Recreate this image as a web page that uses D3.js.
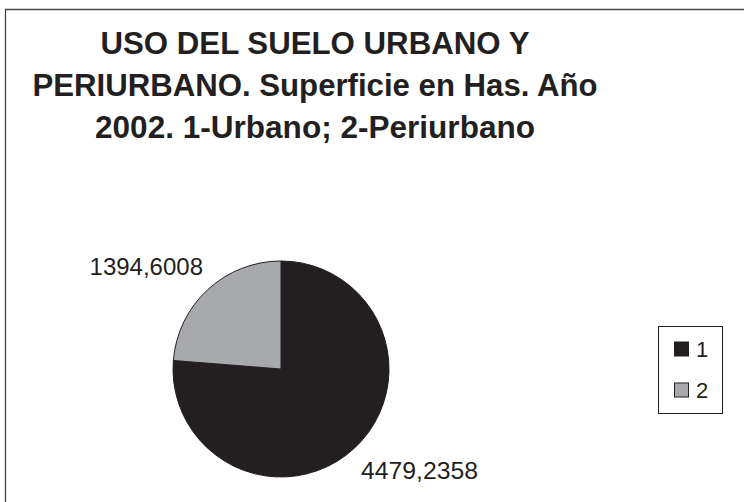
<!DOCTYPE html>
<html>
<head>
<meta charset="utf-8">
<script src="https://cdn.jsdelivr.net/npm/d3@7"></script>
<style>
  body { margin: 0; background: #fff; }
  svg { display: block; font-family: "Liberation Sans", Arial, sans-serif; }
</style>
</head>
<body>
<div id="chart"></div>
<script>
// chart data
const categories = ["1", "2"];
const values = [4479.2358, 1394.6008];
const valueLabels = ["4479,2358", "1394,6008"];
const titleLines = [
  "USO DEL SUELO URBANO Y",
  "PERIURBANO. Superficie en Has. Año",
  "2002. 1-Urbano; 2-Periurbano"
];
const colors = ["#231f20", "#a7a9ac"];

const W = 744, H = 502;
const svg = d3.select("#chart").append("svg")
  .attr("width", W)
  .attr("height", H);

// outer frame (only top and left visible in the crop)
svg.append("path")
  .attr("d", `M5.5,${H} V9.5 H${W}`)
  .attr("fill", "none")
  .attr("stroke", "#444")
  .attr("stroke-width", 1.3);

// title
const titleWidths = [429, 565, 440];
const titleBase = [54, 96, 138];
svg.append("g").selectAll("text")
  .data(titleLines)
  .enter().append("text")
  .attr("x", 315)
  .attr("y", (d, i) => titleBase[i])
  .attr("text-anchor", "middle")
  .attr("textLength", (d, i) => titleWidths[i])
  .attr("lengthAdjust", "spacingAndGlyphs")
  .style("font-size", "32px")
  .style("font-weight", "bold")
  .style("fill", "#231f20")
  .text(d => d);

// pie
const cx = 281, cy = 369, r = 108;
const pie = d3.pie().sort(null).value(d => d)(values);
const arc = d3.arc().innerRadius(0).outerRadius(r);

const g = svg.append("g").attr("transform", `translate(${cx},${cy})`);
g.selectAll("path")
  .data(pie)
  .enter().append("path")
  .attr("d", arc)
  .attr("fill", (d, i) => colors[i])
  .attr("stroke", "#231f20")
  .attr("stroke-width", 1);

// value labels
svg.append("text")
  .attr("x", 361).attr("y", 479)
  .attr("textLength", 117)
  .attr("lengthAdjust", "spacingAndGlyphs")
  .style("font-size", "24px")
  .style("fill", "#231f20")
  .text(valueLabels[0]);

svg.append("text")
  .attr("x", 203).attr("y", 275)
  .attr("text-anchor", "end")
  .style("font-size", "24px")
  .style("fill", "#231f20")
  .text(valueLabels[1]);

// legend
const legend = svg.append("g");
legend.append("rect")
  .attr("x", 658.5).attr("y", 326.5)
  .attr("width", 64).attr("height", 87)
  .attr("fill", "#fff")
  .attr("stroke", "#231f20")
  .attr("stroke-width", 1);

const legY = d3.scalePoint().domain(categories).range([349, 390]);
categories.forEach((c, i) => {
  legend.append("rect")
    .attr("x", 674.5).attr("y", legY(c) - 7)
    .attr("width", 14).attr("height", 14)
    .attr("fill", colors[i])
    .attr("stroke", "#231f20")
    .attr("stroke-width", 1);
  legend.append("text")
    .attr("x", 696).attr("y", legY(c) + 8)
    .style("font-size", "22px")
    .style("fill", "#231f20")
    .text(c);
});
</script>
</body>
</html>
